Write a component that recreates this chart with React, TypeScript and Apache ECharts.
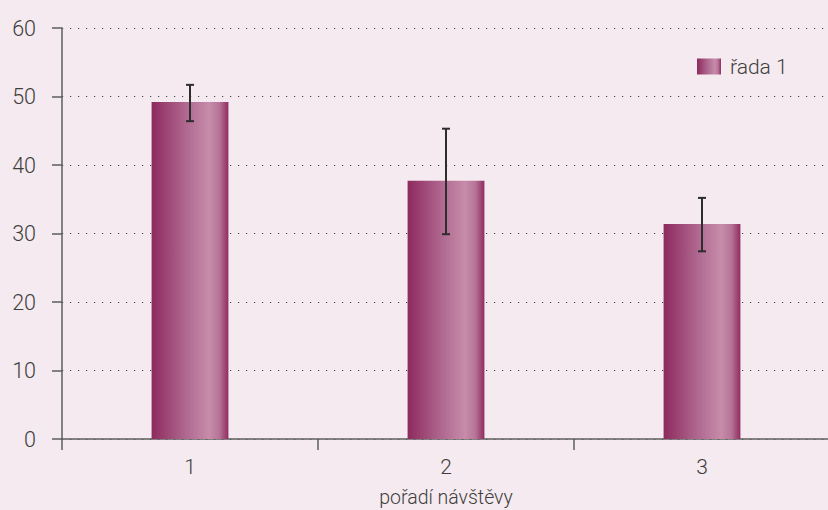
import React, { useEffect, useRef } from "react";
import * as echarts from "echarts";

const categories = ["1", "2", "3"];
const values = [49.2, 37.7, 31.4];
const errLow = [46.4, 29.9, 27.4];
const errHigh = [51.7, 45.3, 35.2];
const seriesName = "řada 1";
const xAxisTitle = "pořadí návštěvy";

export default function App() {
  const ref = useRef<HTMLDivElement>(null);
  useEffect(() => {
    const chart = echarts.init(ref.current!, null, { renderer: "svg" });
    const grad = new echarts.graphic.LinearGradient(0, 0, 1, 0, [
      { offset: 0, color: "#8d2a5e" },
      { offset: 0.45, color: "#b06990" },
      { offset: 0.75, color: "#c68ca9" },
      { offset: 0.88, color: "#b67598" },
      { offset: 1, color: "#902c60" },
    ]);
    const font = "Roboto";
    const txt = { fontFamily: font, color: "#3e3e3e", fontWeight: 300 };
    chart.setOption({
      animation: false,
      backgroundColor: "#f5eaef",
      textStyle: { fontFamily: font },
      grid: { left: 62, right: -2, top: 28, bottom: 71, outerBoundsMode: "none", containLabel: false },
      legend: {
        left: 692,
        top: 51,
        itemWidth: 24,
        itemHeight: 16,
        itemGap: 10,
        data: [{ name: seriesName, icon: "rect" }],
        textStyle: { ...txt, fontSize: 21, padding: [0, 0, 0, 4] },
      },
      xAxis: {
        type: "category",
        data: categories,
        name: xAxisTitle,
        nameLocation: "middle",
        nameGap: 48,
        nameTextStyle: { ...txt, fontSize: 19.5 },
        axisLine: { lineStyle: { color: "#5e5e5e", width: 1.5 } },
        axisTick: { show: true, alignWithLabel: false, length: 11, lineStyle: { color: "#5e5e5e", width: 1.5 } },
        axisLabel: { ...txt, fontSize: 21, margin: 17 },
      },
      yAxis: {
        type: "value",
        min: 0,
        max: 60,
        interval: 10,
        axisLine: { show: true, lineStyle: { color: "#5e5e5e", width: 1.5 } },
        axisTick: { show: true, length: 10, lineStyle: { color: "#5e5e5e", width: 1.5 } },
        axisLabel: { ...txt, fontSize: 21.5, margin: 26 },
        splitLine: { lineStyle: { color: "#444", width: 1.2, type: [1.2, 6.8] } },
      },
      series: [
        {
          name: seriesName,
          type: "bar",
          data: values,
          barWidth: "30%",
          itemStyle: { color: grad },
        },
        {
          type: "custom",
          name: "err",
          data: categories.map((_, i) => [i, errLow[i], errHigh[i]]),
          z: 10,
          renderItem: (params: any, api: any) => {
            const x = api.value(0);
            const lo = api.coord([x, api.value(1)]);
            const hi = api.coord([x, api.value(2)]);
            const cap = 4;
            const style = { stroke: "#2d2d2d", lineWidth: 2 };
            return {
              type: "group",
              children: [
                { type: "line", shape: { x1: hi[0], y1: hi[1], x2: lo[0], y2: lo[1] }, style },
                { type: "line", shape: { x1: hi[0] - cap, y1: hi[1], x2: hi[0] + cap, y2: hi[1] }, style },
                { type: "line", shape: { x1: lo[0] - cap, y1: lo[1], x2: lo[0] + cap, y2: lo[1] }, style },
              ],
            };
          },
        },
      ],
    });
    return () => chart.dispose();
  }, []);
  return (
    <div
      ref={ref}
      style={{ position: "fixed", left: 0, top: 0, width: 828, height: 510 }}
    />
  );
}
